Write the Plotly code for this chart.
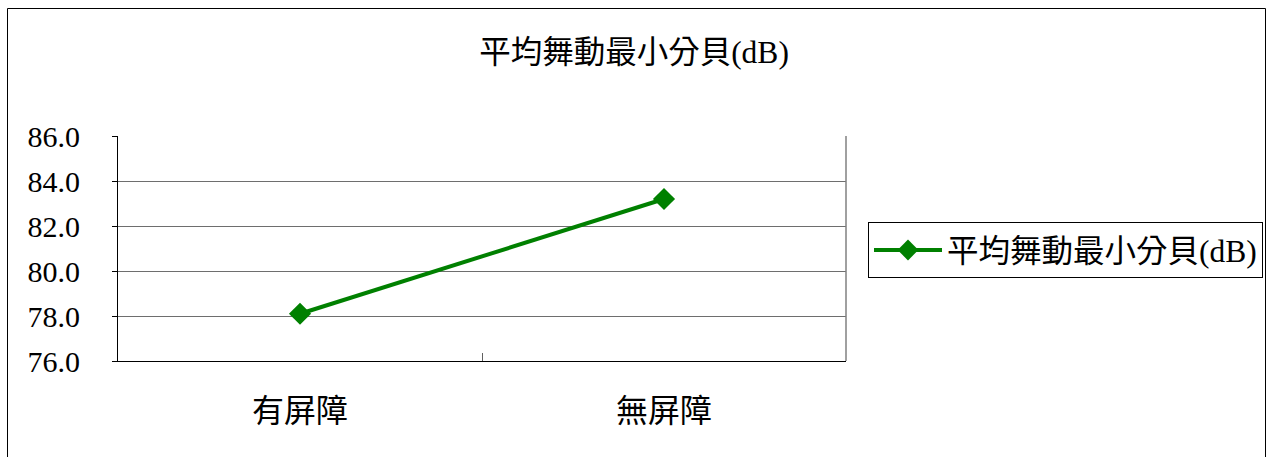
import plotly.graph_objects as go

categories = ["有屏障", "無屏障"]
values = [78.1, 83.2]
series_name = "平均舞動最小分貝(dB)"
title_text = "平均舞動最小分貝(dB)"
y_ticks = [76, 78, 80, 82, 84, 86]

FONT = "Liberation Serif, Noto Sans CJK TC, serif"
W, H = 1268, 457
L, R, T, B = 118, 1268 - 846, 136, 457 - 361
pw, ph = W - L - R, H - T - B

def px_to_paper_x(px):
    return (px - L) / pw

def px_to_paper_y(py):
    return (H - B - py) / ph

fig = go.Figure()
fig.add_trace(go.Scatter(
    x=categories, y=values, name=series_name, mode="lines+markers",
    line=dict(color="#008000", width=4),
    marker=dict(symbol="diamond", size=17, color="#008000"),
    showlegend=True,
))

fig.update_layout(
    width=W, height=H,
    margin=dict(l=L, r=R, t=T, b=B, autoexpand=False),
    paper_bgcolor="white", plot_bgcolor="white",
    font=dict(family=FONT, size=30, color="black"),
    title=dict(text=title_text, x=0.5, xref="container", xanchor="center",
               y=1 - 52 / H, yref="container", yanchor="middle",
               font=dict(family=FONT, size=31.5, color="black")),
    legend=dict(x=px_to_paper_x(868), y=px_to_paper_y(222), xanchor="left", yanchor="top",
                bordercolor="black", borderwidth=1, bgcolor="white",
                itemwidth=68,
                font=dict(family=FONT, size=31.5, color="black")),
    xaxis=dict(type="category", range=[-0.5, 1.5], showline=True, linecolor="black",
               linewidth=1, ticks="inside", tickson="boundaries", ticklen=8,
               tickcolor="#606060", showgrid=False, ticklabelstandoff=22,
               tickfont=dict(family=FONT, size=32)),
    yaxis=dict(range=[76, 86], tickvals=y_ticks, tickformat=".1f",
               showline=True, linecolor="black", linewidth=1,
               ticks="outside", ticklen=5, tickcolor="black",
               showgrid=True, gridcolor="#6e6e6e", gridwidth=1,
               zeroline=False, ticklabelstandoff=26,
               tickfont=dict(family=FONT, size=30)),
    shapes=[
        dict(type="line", xref="paper", yref="paper", x0=1, x1=1, y0=0, y1=1,
             line=dict(color="#808080", width=1.5)),
        dict(type="rect", xref="paper", yref="paper",
             x0=px_to_paper_x(7.5), x1=px_to_paper_x(1265.5),
             y0=px_to_paper_y(470), y1=px_to_paper_y(8.5),
             line=dict(color="black", width=1), layer="below"),
    ],
)

fig.write_html("out.html")
